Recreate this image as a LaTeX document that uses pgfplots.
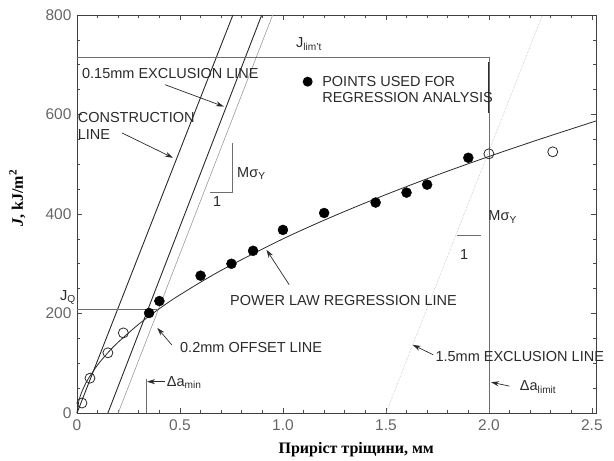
\documentclass[border=0pt]{standalone}
\usepackage{fontspec}
\setmainfont{Liberation Serif}
\setsansfont{Liberation Sans}
\usepackage{pgfplots}
\pgfplotsset{compat=1.18}
\usetikzlibrary{arrows.meta}
\definecolor{ink}{HTML}{2A2A2A}
\definecolor{lgray}{HTML}{9A9A9A}
\definecolor{mgray}{HTML}{6E6E6E}
\newcommand{\ann}{\sffamily\fontsize{14.5}{16}\selectfont}
\begin{document}
\begin{tikzpicture}
\begin{axis}[name=ax, scale only axis, width=519pt, height=398pt,
  xmin=0, xmax=2.52, ymin=0, ymax=800, clip=false,
  xtick={0,0.5,1,1.5,2,2.5}, xticklabels={0,0.5,1.0,1.5,2.0,2.5},
  ytick={0,200,400,600,800},
  minor x tick num=4, minor y tick num=3,
  tick align=inside, tick pos=both,
  major tick length=5pt, minor tick length=3pt,
  every tick/.style={black!70, line width=0.7pt},
  axis line style={black!75, line width=0.9pt},
  /pgf/number format/assume math mode=true,
  tick label style={font=\sffamily\fontsize{15.5}{16}\selectfont, text=black!60},
  xticklabel style={yshift=-3pt},
  yticklabel style={xshift=-2pt},
  xlabel={\textbf{Приріст тріщини, мм}},
  xlabel style={font=\fontsize{16}{17}\selectfont, at={(axis description cs:0.538,0)}, anchor=center, yshift=-37pt},
  ylabel={\textbf{\textit{J}, kJ/m\textsuperscript{2}}},
  ylabel style={font=\fontsize{16}{17}\selectfont, at={(axis description cs:-0.115,0.54)}, anchor=center},
]
% construction and exclusion lines
\addplot[ink, line width=0.9pt] coordinates {(0,0) (0.757,800)};
\addplot[ink, line width=0.9pt] coordinates {(0.15,0) (0.897,800)};
\addplot[lgray, line width=0.6pt] coordinates {(0.2,0) (0.95,800)};
\addplot[lgray!80, line width=0.5pt, densely dotted] coordinates {(1.5,0) (2.26,800)};
% J limit and Delta a limit
\addplot[mgray, line width=0.6pt] coordinates {(0,714) (2.0,714) (2.0,0)};
\addplot[ink, line width=1.0pt] coordinates {(2.0,604) (2.0,706)};
% J_Q and Delta a min
\addplot[mgray, line width=0.6pt] coordinates {(0,209) (0.39,209)};
\addplot[mgray, line width=0.6pt] coordinates {(0.335,0) (0.335,68)};
% slope triangles
\addplot[mgray, line width=0.6pt] coordinates {(0.646,443) (0.752,443) (0.752,543)};
\addplot[mgray, line width=0.6pt] coordinates {(1.845,358) (1.96,358)};
% power law regression line
\addplot[ink, line width=0.8pt, smooth] coordinates {
 (0,0) (0.01,26.7) (0.02,39.3) (0.05,65.5) (0.1,96.6) (0.15,121.2) (0.2,142.3)
 (0.3,178.6) (0.4,209.7) (0.5,237.6) (0.7,286.7) (1.0,350) (1.25,396.5)
 (1.5,439) (1.75,478.6) (2.0,515.6) (2.25,550.7) (2.52,587)};
% open points
\addplot[only marks, mark=o, mark size=5pt, mark options={ink, line width=0.8pt, fill=white}] coordinates {
 (0.024,20) (0.063,70) (0.15,121) (0.225,161) (2.0,521) (2.31,525)};
% regression points
\addplot[only marks, mark=*, mark size=5pt, mark options={black}] coordinates {
 (0.35,201) (0.40,225) (0.60,276) (0.75,300) (0.855,326) (1.0,368)
 (1.2,402) (1.45,423) (1.6,443) (1.7,459) (1.9,513)};
% annotations
\node[font=\ann, text=ink, anchor=west, inner sep=0pt] at (axis cs:0.024,683) {0.15mm EXCLUSION LINE};
\draw[ink, line width=0.7pt, -{Stealth[length=8pt,width=5pt]}] (axis cs:0.427,660) -- (axis cs:0.713,616);
\node[font=\ann, text=ink, anchor=west, inner sep=0pt] at (axis cs:0.003,594) {CONSTRUCTION};
\node[font=\ann, text=ink, anchor=west, inner sep=0pt] at (axis cs:0.003,559) {LINE};
\draw[ink, line width=0.7pt, -{Stealth[length=8pt,width=5pt]}] (axis cs:0.218,563) -- (axis cs:0.466,513);
\fill[black] (axis cs:1.12,666) circle (5pt);
\node[font=\ann, text=ink, anchor=west, inner sep=0pt] at (axis cs:1.19,666) {POINTS USED FOR};
\node[font=\ann, text=ink, anchor=west, inner sep=0pt] at (axis cs:1.19,634) {REGRESSION ANALYSIS};
\node[font=\ann, text=ink, anchor=west, inner sep=0pt] at (axis cs:0.743,227) {POWER LAW REGRESSION LINE};
\draw[ink, line width=0.7pt, -{Stealth[length=8pt,width=5pt]}] (axis cs:1.03,258) -- (axis cs:0.92,328);
\node[font=\ann, text=ink, anchor=west, inner sep=0pt] at (axis cs:0.5,131) {0.2mm OFFSET LINE};
\draw[ink, line width=0.7pt, -{Stealth[length=8pt,width=5pt]}] (axis cs:0.46,137) -- (axis cs:0.39,171);
\node[font=\ann, text=ink, anchor=west, inner sep=0pt] at (axis cs:1.74,113) {1.5mm EXCLUSION LINE};
\draw[ink, line width=0.7pt, -{Stealth[length=8pt,width=5pt]}] (axis cs:1.73,117) -- (axis cs:1.63,137);
\node[font=\ann, text=ink, anchor=west, inner sep=0pt] at (axis cs:2.15,52) {Δa\textsubscript{limit}};
\draw[ink, line width=0.7pt, -{Stealth[length=8pt,width=5pt]}] (axis cs:2.10,54) -- (axis cs:2.01,62);
\node[font=\ann, text=ink, anchor=west, inner sep=0pt] at (axis cs:0.436,61) {Δa\textsubscript{min}};
\draw[ink, line width=0.7pt, -{Stealth[length=8pt,width=5pt]}] (axis cs:0.425,63) -- (axis cs:0.34,63);
\node[font=\ann, text=ink, anchor=west, inner sep=0pt] at (axis cs:1.063,742) {J\textsubscript{lim't}};
\node[font=\ann, text=ink, anchor=west, inner sep=0pt] at (axis cs:-0.083,233) {J\textsubscript{Q}};
\node[font=\ann, text=ink, anchor=west, inner sep=0pt] at (axis cs:0.777,482) {Mσ\textsubscript{Y}};
\node[font=\ann, text=ink, anchor=center, inner sep=0pt] at (axis cs:0.68,425) {1};
\node[font=\ann, text=ink, anchor=west, inner sep=0pt] at (axis cs:1.997,394) {Mσ\textsubscript{Y}};
\node[font=\ann, text=ink, anchor=center, inner sep=0pt] at (axis cs:1.88,318) {1};
\end{axis}
\path ([shift={(-77pt,-48pt)}]ax.south west) rectangle ([shift={(18pt,15pt)}]ax.north east);
\end{tikzpicture}
\end{document}
